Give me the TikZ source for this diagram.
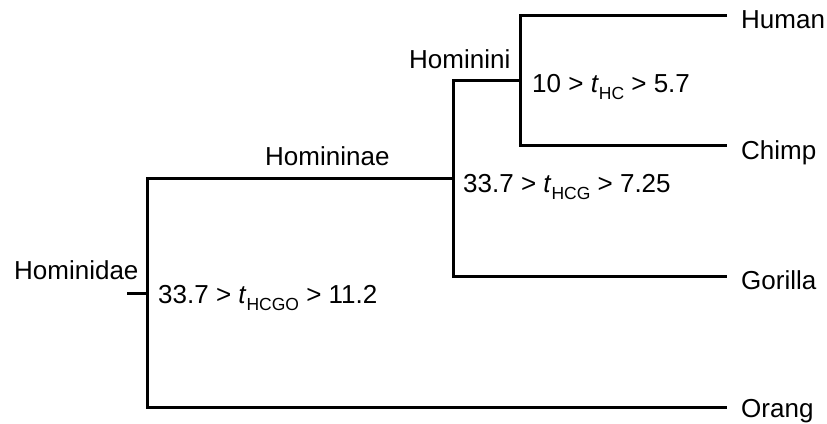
\documentclass[tikz,border=0pt]{standalone}
\usepackage{fontspec}
\setmainfont{Liberation Sans}
\newcommand{\tsub}[1]{\textit{t}\raisebox{-0.28em}{\fontsize{17.5pt}{18pt}\selectfont #1}}
\begin{document}
\begin{tikzpicture}[x=1pt,y=-1pt,
  branch/.style={line width=3pt},
  lbl/.style={anchor=base west,inner sep=0pt,font=\fontsize{26pt}{30pt}\selectfont},
  leaf/.style={lbl},
  clade/.style={lbl},
  dating/.style={lbl}]
\useasboundingbox (0,0) rectangle (827,423);

% tips of the branches
\coordinate (hend) at (727,15);
\coordinate (cend) at (727,145);
\coordinate (gend) at (727,276);
\coordinate (oend) at (727,407);
% internal splits
\coordinate (hc) at (520,80);
\coordinate (hcg) at (453,178);
\coordinate (hcgo) at (147,293);
\coordinate (root) at (127,293);

% the tree
\draw[branch] (hend) -| (hc) |- (cend);
\draw[branch] (hc) -| (hcg) |- (gend);
\draw[branch] (hcg) -| (hcgo) |- (oend);
\draw[branch] (hcgo) -- (root);

% species
\node[leaf] (human) at (741,28.5) {Human};
\node[leaf] (chimp) at (741,159) {Chimp};
\node[leaf] (gorilla) at (741,289.5) {Gorilla};
\node[leaf] (orang) at (741,417) {Orang};

% clade names
\node[clade] (hominini) at (409,68) {Hominini};
\node[clade] (homininae) at (265,165) {Homininae};
\node[clade] (hominidae) at (14,279) {Hominidae};

% divergence times
\node[dating] (thc) at (532,92) {10 > \tsub{HC} > 5.7};
\node[dating] (thcg) at (463,192) {33.7 > \tsub{HCG} > 7.25};
\node[dating] (thcgo) at (158,303) {33.7 > \tsub{HCGO} > 11.2};
\end{tikzpicture}
\end{document}
